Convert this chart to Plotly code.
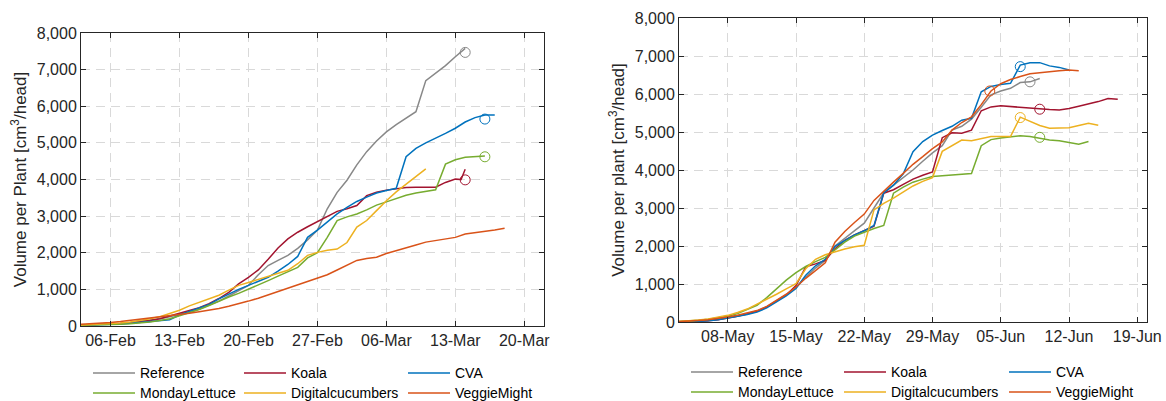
import pandas as pd
import plotly.graph_objects as go

# ---------------------------------------------------------------- data
SERIES = ["Reference", "Koala", "CVA", "MondayLettuce", "Digitalcucumbers", "VeggieMight"]
COLORS = ["#888888", "#A2142F", "#0072BD", "#77AC30", "#EDB120", "#D95319"]

# Greenhouse run 1 (daily from 03-Feb)
FEB_START = "2023-02-03"
feb_reference = [30, 35, 45, 55, 70, 95, 125, 160, 200, 250, 310, 380, 460, 560, 680, 820, 960, 1110,
                 1400, 1650, 1790, 1930, 2120, 2350, 2620, 3200,
                 3650, 3980, 4400, 4760, 5050, 5300, 5500, 5670, 5850, 6700, 6900, 7110, 7350, 7580]
feb_koala = [30, 35, 42, 50, 65, 85, 110, 150, 200, 270, 350, 420, 500, 610, 750, 920, 1150, 1330,
             1530, 1820, 2130, 2380, 2560, 2710, 2850, 3000,
             3130, 3200, 3290, 3560, 3650, 3710, 3750, 3780, 3790, 3780, 3790, 3920, 4010]
feb_koala_tail_dates = ["2023-03-13 14:00", "2023-03-14 00:00"]
feb_koala_tail = [4000, 4280]
feb_cva = [20, 25, 30, 40, 55, 75, 95, 120, 150, 170, 300, 390, 480, 590, 740, 880, 1000, 1110,
           1220, 1330, 1500, 1680, 1900, 2420, 2620, 2850,
           3060, 3240, 3400, 3520, 3630, 3700, 3760, 4620, 4850, 5000, 5120, 5260, 5400, 5570,
           5690, 5760, 5760]
feb_monday = [20, 22, 28, 35, 45, 60, 80, 110, 150, 200, 280, 360, 450, 560, 680, 790, 890, 1000,
              1120, 1240, 1360, 1470, 1600, 1860, 2000, 2420,
              2880, 2980, 3060, 3170, 3300, 3390, 3490, 3570, 3630, 3680, 3720, 4420, 4540, 4610,
              4630, 4640]
feb_digital = [30, 38, 50, 62, 80, 110, 150, 200, 255, 340, 430, 550, 640, 730, 840, 980, 1110, 1190,
               1270, 1360, 1430, 1520, 1700, 1930, 2010, 2070,
               2100, 2280, 2700, 2880, 3150, 3420, 3660, 3870, 4090, 4290]
feb_veggie = [50, 60, 75, 95, 120, 150, 180, 210, 240, 280, 320, 350, 390, 430, 480, 540, 600, 680,
              760, 850, 930, 1030, 1110, 1200, 1290, 1400,
              1530, 1650, 1790, 1840, 1880, 1980, 2050, 2130, 2210, 2290, 2340, 2390, 2420, 2510,
              2540, 2570, 2620, 2670]
# harvest points (series, date, volume)
feb_harvest = [("Reference", "2023-03-14", 7470), ("Koala", "2023-03-14", 3990),
               ("CVA", "2023-03-16", 5650), ("MondayLettuce", "2023-03-16", 4620)]

# Greenhouse run 2 (daily from 03-May)
MAY_START = "2023-05-03"
may_reference = [5, 10, 20, 40, 70, 110, 160, 220, 290, 400, 550, 720, 910, 1180, 1420, 1620, 2000,
                 2200, 2400, 2600, 3000, 3400, 3600, 3800, 4000, 4230, 4450, 4640, 5050,
                 5150, 5340, 5650, 5980, 6080, 6150, 6300, 6320, 6410]
may_koala = [0, 5, 15, 30, 60, 100, 150, 210, 280, 390, 540, 710, 960, 1450, 1530, 1620, 1930,
             2150, 2290, 2400, 2520, 3390, 3480, 3620, 3760, 3860, 3950, 4850, 4980,
             4970, 5050, 5560, 5660, 5690, 5670, 5650, 5620, 5600, 5590, 5580, 5620, 5680, 5730,
             5800, 5880, 5860]
may_cva = [0, 5, 15, 30, 60, 100, 150, 200, 260, 370, 520, 690, 880, 1230, 1480, 1650, 1990,
           2150, 2290, 2400, 2540, 3400, 3600, 3900, 4480, 4750, 4920, 5040, 5150,
           5310, 5360, 6060, 6200, 6250, 6280, 6760, 6820, 6825, 6740, 6700, 6630]
may_monday = [10, 25, 45, 75, 110, 150, 220, 320, 440, 640, 880, 1100, 1300, 1460, 1590, 1700,
              1900, 2100, 2260, 2370, 2460, 2540, 3390, 3550, 3680, 3760, 3830, 3850, 3870,
              3900, 3910, 4640, 4800, 4840, 4870, 4900, 4880, 4830, 4790, 4770, 4720, 4680, 4750]
may_digital = [10, 25, 50, 80, 120, 175, 250, 340, 470, 590, 730, 870, 1010, 1400, 1650, 1770,
               1850, 1920, 1980, 2020, 2950, 3120, 3260, 3420, 3580, 3700, 3800, 4490, 4650,
               4790, 4770, 4820, 4880, 4880, 4880, 5390, 5270, 5170, 5100, 5100, 5110, 5170,
               5230, 5180]
may_veggie = [10, 20, 40, 60, 90, 130, 180, 240, 300, 410, 560, 730, 920, 1150, 1350, 1560, 2100,
              2380, 2620, 2840, 3200, 3450, 3680, 3910, 4150, 4350, 4560, 4740, 5050,
              5250, 5400, 5720, 6080, 6270, 6380, 6460, 6530, 6560, 6590, 6610, 6630, 6610]
may_harvest = [("Reference", "2023-06-08", 6320), ("Koala", "2023-06-09", 5600),
               ("CVA", "2023-06-07", 6720), ("MondayLettuce", "2023-06-09", 4860),
               ("Digitalcucumbers", "2023-06-07", 5380), ("VeggieMight", "2023-06-03 21:00", 6080)]

FEB_RANGE = ["2023-02-03", "2023-03-22"]
MAY_RANGE = ["2023-05-03", "2023-06-20"]
FEB_TICK0 = "2023-02-06"
MAY_TICK0 = "2023-05-08"


def daily(start, values):
    return list(pd.date_range(start, periods=len(values), freq="D"))


feb_x = {
    "Reference": daily(FEB_START, feb_reference),
    "Koala": daily(FEB_START, feb_koala) + list(pd.to_datetime(feb_koala_tail_dates)),
    "CVA": daily(FEB_START, feb_cva),
    "MondayLettuce": daily(FEB_START, feb_monday),
    "Digitalcucumbers": daily(FEB_START, feb_digital),
    "VeggieMight": daily(FEB_START, feb_veggie),
}
feb_y = {
    "Reference": feb_reference,
    "Koala": feb_koala + feb_koala_tail,
    "CVA": feb_cva,
    "MondayLettuce": feb_monday,
    "Digitalcucumbers": feb_digital,
    "VeggieMight": feb_veggie,
}
may_y = {
    "Reference": may_reference,
    "Koala": may_koala,
    "CVA": may_cva,
    "MondayLettuce": may_monday,
    "Digitalcucumbers": may_digital,
    "VeggieMight": may_veggie,
}
may_x = {k: daily(MAY_START, v) for k, v in may_y.items()}

# ---------------------------------------------------------------- figure
W, H = 1166, 401
FONT = "Liberation Sans, Arial, Helvetica, sans-serif"
AXC = "#262626"


def px_x(p):
    return p / W


def px_y(p):
    return 1 - p / H


fig = go.Figure()

panels = [("x", "y", feb_x, feb_y, feb_harvest), ("x2", "y2", may_x, may_y, may_harvest)]
for xa, ya, xs, ys, harvest in panels:
    for name, color in zip(SERIES, COLORS):
        fig.add_trace(go.Scatter(
            x=xs[name], y=ys[name], mode="lines", name=name, showlegend=False,
            line=dict(color=color, width=1.5), xaxis=xa, yaxis=ya, hoverinfo="skip",
        ))
    for name, d, v in harvest:
        color = COLORS[SERIES.index(name)]
        fig.add_trace(go.Scatter(
            x=[pd.Timestamp(d)], y=[v], mode="markers", showlegend=False,
            marker=dict(symbol="circle-open", size=10, color=color, line=dict(width=1, color=color)),
            xaxis=xa, yaxis=ya, hoverinfo="skip",
        ))

# two-row, three-column key under each panel (pixel anchors of each column / row)
key_panels = [
    ([93, 244, 408], [373, 393]),
    ([691, 844, 1009], [372, 392]),
]
SAMPLE_LEN = 42
TEXT_GAP = 46
shapes, annotations = [], []
for cols, rows in key_panels:
    for i, (name, color) in enumerate(zip(SERIES, COLORS)):
        x0 = cols[i % 3]
        yy = rows[i // 3]
        shapes.append(dict(type="line", xref="paper", yref="paper",
                           x0=px_x(x0), x1=px_x(x0 + SAMPLE_LEN), y0=px_y(yy), y1=px_y(yy),
                           line=dict(color=color, width=1.5)))
        annotations.append(dict(text=name, xref="paper", yref="paper",
                                x=px_x(x0 + TEXT_GAP), y=px_y(yy), xanchor="left", yanchor="middle",
                                showarrow=False, borderpad=0,
                                font=dict(family=FONT, size=14, color="#000000")))

common_x = dict(
    type="date", tickformat="%d-%b", dtick=7 * 86400000, tickangle=0,
    showgrid=True, gridcolor="#d9d9d9", griddash="9px,6px", gridwidth=1,
    showline=True, linecolor=AXC, linewidth=1, mirror="ticks",
    ticks="inside", ticklen=5, tickwidth=1, tickcolor=AXC,
    tickfont=dict(family=FONT, size=16, color=AXC), automargin=False, zeroline=False,
)
common_y = dict(
    range=[0, 8000], dtick=1000, tickformat=",d",
    showgrid=True, gridcolor="#d9d9d9", griddash="9px,6px", gridwidth=1,
    showline=True, linecolor=AXC, linewidth=1, mirror="ticks",
    ticks="inside", ticklen=5, tickwidth=1, tickcolor=AXC,
    tickfont=dict(family=FONT, size=16, color=AXC), automargin=False, zeroline=False,
)

fig.update_layout(
    width=W, height=H, margin=dict(l=0, r=0, t=0, b=0),
    paper_bgcolor="white", plot_bgcolor="white", showlegend=False,
    font=dict(family=FONT, color=AXC),
    xaxis=dict(common_x, domain=[px_x(81), px_x(544)], range=FEB_RANGE, tick0=FEB_TICK0, anchor="y"),
    yaxis=dict(common_y, domain=[px_y(326), px_y(33)], anchor="x",
               title=dict(text="Volume per Plant [cm<sup>3</sup>/head]",
                          font=dict(family=FONT, size=17, color=AXC), standoff=5)),
    xaxis2=dict(common_x, domain=[px_x(679), px_x(1147)], range=MAY_RANGE, tick0=MAY_TICK0, anchor="y2"),
    yaxis2=dict(common_y, domain=[px_y(322), px_y(18)], anchor="x2",
                title=dict(text="Volume per plant [cm<sup>3</sup>/head]",
                           font=dict(family=FONT, size=17, color=AXC), standoff=5)),
    shapes=shapes,
    annotations=annotations,
)

fig.write_html("out.html")
